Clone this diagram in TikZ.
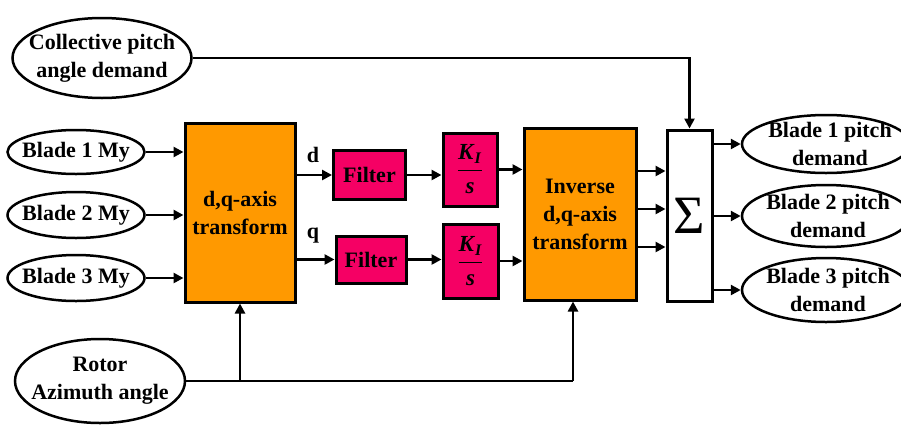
\documentclass[tikz,border=0pt]{standalone}
\usepackage{amsmath}
\usepackage{fontspec}
\setmainfont{Liberation Serif}
\usetikzlibrary{shapes.geometric,arrows.meta,calc}
\definecolor{orng}{HTML}{FF9900}
\definecolor{pnk}{HTML}{F50064}
\begin{document}
\begin{tikzpicture}[x=1pt,y=-1pt,
  every node/.style={font=\fontsize{22}{28}\selectfont\bfseries, align=center, inner sep=0pt},
  ell/.style={draw, ellipse, line width=2.5pt},
  blk/.style={draw, line width=3pt},
  kfont/.style={font=\fontsize{23}{26}\selectfont\bfseries},
  arr/.style={line width=2.5pt, -{Triangle[length=10pt,width=10pt]}},
  ln/.style={line width=2.5pt}]
\clip (0,0) rectangle (901,426);
\useasboundingbox (0,0) rectangle (901,426);
% inputs
\node[ell, minimum width=179pt, minimum height=80pt] (coll) at (102,58) {};
\node (collt) at (coll.center) {Collective pitch\\angle demand};
\node[ell, minimum width=137pt, minimum height=44pt] (b1) at (76,152) {};
\node (b1t) at (b1.center) {Blade 1 My};
\node[ell, minimum width=137pt, minimum height=46pt] (b2) at (76,215) {};
\node (b2t) at (b2.center) {Blade 2 My};
\node[ell, minimum width=137pt, minimum height=46pt] (b3) at (76,278) {};
\node (b3t) at (b3.center) {Blade 3 My};
\node[ell, minimum width=170pt, minimum height=84pt] (rot) at (100,381) {};
\node (rott) at (rot.center) {Rotor\\Azimuth angle};
% blocks
\node[blk, fill=orng, minimum width=110pt, minimum height=179pt] (dq) at (240,212.5) {d,q-axis\\transform};
\node[blk, fill=pnk, minimum width=72pt, minimum height=49pt] (f1) at (369.5,175) {Filter};
\node[blk, fill=pnk, minimum width=70pt, minimum height=47pt] (f2) at (371,259.5) {Filter};
\node[blk, fill=pnk, minimum width=54pt, minimum height=73pt, kfont] (k1) at (470,169.5)
  {$\dfrac{\textbf{\textit{K}}_{\textbf{\textit{I}}}}{\textbf{\textit{s}}}$};
\node[blk, fill=pnk, minimum width=55pt, minimum height=74pt, kfont] (k2) at (470.5,261)
  {$\dfrac{\textbf{\textit{K}}_{\textbf{\textit{I}}}}{\textbf{\textit{s}}}$};
\node[blk, fill=orng, minimum width=112pt, minimum height=172pt] (inv) at (580,214) {Inverse\\d,q-axis\\transform};
\node[blk, fill=white, minimum width=45pt, minimum height=171pt] (sig) at (689.5,215.5) {\fontsize{54}{54}\selectfont\mdseries Σ};
% outputs
\node[ell, minimum width=168pt, minimum height=58pt] (o1) at (826,144) {};
\node (o1t) at ([xshift=4pt]o1.center) {Blade 1 pitch\\demand};
\node[ell, minimum width=168pt, minimum height=62pt] (o2) at (826,216) {};
\node (o2t) at ([xshift=2pt]o2.center) {Blade 2 pitch\\demand};
\node[ell, minimum width=168pt, minimum height=64pt] (o3) at (826,290) {};
\node (o3t) at ([xshift=2pt]o3.center) {Blade 3 pitch\\demand};
% labels
\node (dl) at (313,155) {d};
\node (ql) at (313,236) {q};
% helper coordinates
\coordinate (ya) at (0,171);
\coordinate (yb) at (0,209);
\coordinate (yc) at (0,247);
\coordinate (azx) at (573,0);
% connectors
\draw[arr] (coll.east) -| (sig.north);
\draw[arr] (b1.east) -- (b1.east -| dq.west);
\draw[arr] (b2.east) -- (b2.east -| dq.west);
\draw[arr] (b3.east) -- (b3.east -| dq.west);
\draw[arr] (dq.east |- f1.west) -- (f1.west);
\draw[arr] (dq.east |- f2.west) -- (f2.west);
\draw[arr] (f1.east) -- (f1.east -| k1.west);
\draw[arr] (f2.east) -- (f2.east -| k2.west);
\draw[arr] (k1.east) -- (k1.east -| inv.west);
\draw[arr] (k2.east) -- (k2.east -| inv.west);
\draw[arr] (inv.east |- ya) -- (sig.west |- ya);
\draw[arr] (inv.east |- yb) -- (sig.west |- yb);
\draw[arr] (inv.east |- yc) -- (sig.west |- yc);
\draw[arr] (sig.east |- o1.west) -- (o1.west);
\draw[arr] (sig.east |- o2.west) -- (o2.west);
\draw[arr] (sig.east |- o3.west) -- (o3.west);
\draw[ln] (rot.east) -- (rot.east -| azx);
\draw[arr] (rot.east -| azx) -- (azx |- inv.south);
\draw[arr] (rot.east -| dq.south) -- (dq.south);
\end{tikzpicture}
\end{document}
